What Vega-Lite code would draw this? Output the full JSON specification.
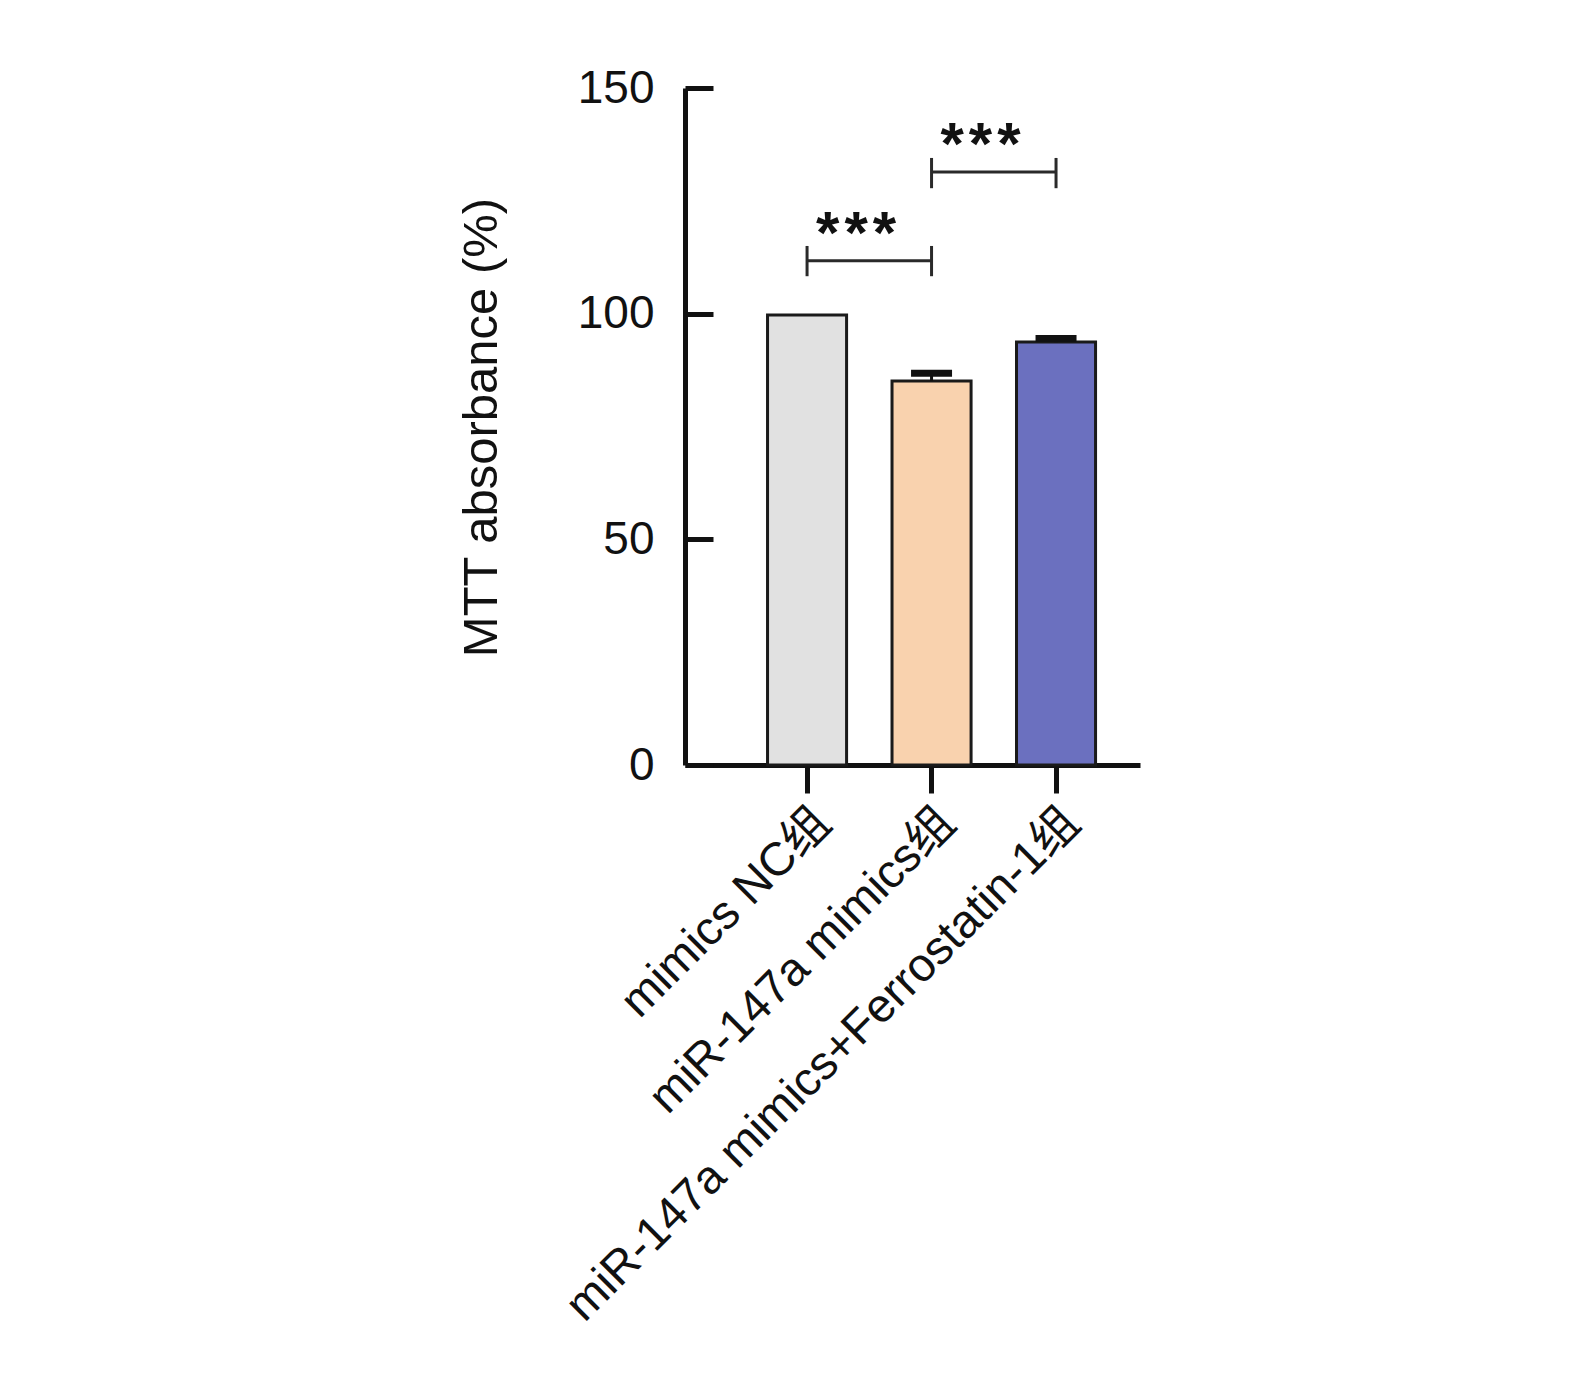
{
  "$schema": "https://vega.github.io/schema/vega-lite/v6.json",
  "autosize": "none",
  "width": 455,
  "height": 677,
  "padding": {"left": 685, "top": 88, "right": 435, "bottom": 622},
  "background": "white",
  "config": {"view": {"stroke": null}, "font": "Liberation Sans, Noto Sans CJK SC"},
  "datasets": {
    "bars": [
      {"group": "mimics NC组", "mean": 99.7, "upper": 99.7},
      {"group": "miR-147a mimics组", "mean": 85.1, "upper": 86.8},
      {"group": "miR-147a mimics+Ferrostatin-1组", "mean": 93.7, "upper": 94.5}
    ],
    "brackets": [
      {"from": "mimics NC组", "to": "miR-147a mimics组", "y": 111.7, "ylo": 108.3, "yhi": 115.0, "star": 113.4, "label": "*\u200a*\u200a*"},
      {"from": "miR-147a mimics组", "to": "miR-147a mimics+Ferrostatin-1组", "y": 131.4, "ylo": 127.8, "yhi": 134.5, "star": 133.2, "label": "*\u200a*\u200a*"}
    ]
  },
  "encoding": {
    "x": {
      "field": "group",
      "type": "nominal",
      "sort": null,
      "scale": {
        "domain": ["mimics NC组", "miR-147a mimics组", "miR-147a mimics+Ferrostatin-1组"],
        "paddingInner": 0.365,
        "paddingOuter": 0.51,
        "align": 0.65
      },
      "axis": {
        "title": null,
        "labelAngle": -45,
        "labelFontSize": 47,
        "labelColor": "#111111",
        "labelPadding": 6,
        "tickSize": 28,
        "tickWidth": 5,
        "tickColor": "#111111",
        "domainWidth": 5,
        "domainColor": "#111111",
        "labelLimit": 0,
        "labelOverlap": false
      }
    }
  },
  "layer": [
    {
      "data": {"name": "bars"},
      "mark": {"type": "bar", "stroke": "#1a1a1a", "strokeWidth": 3},
      "encoding": {
        "y": {
          "field": "mean",
          "type": "quantitative",
          "scale": {"domain": [0, 150], "nice": false},
          "axis": {
            "values": [0, 50, 100, 150],
            "title": "MTT absorbance (%)",
            "titleFontSize": 49,
            "titleFontWeight": "normal",
            "titleColor": "#111111",
            "titlePadding": 71,
            "titleY": 339,
            "labelFontSize": 46,
            "labelColor": "#111111",
            "labelPadding": 59,
            "tickSize": -28,
            "tickWidth": 5,
            "tickColor": "#111111",
            "domainWidth": 5,
            "domainColor": "#111111",
            "grid": false
          }
        },
        "color": {
          "field": "group",
          "type": "nominal",
          "scale": {
            "domain": ["mimics NC组", "miR-147a mimics组", "miR-147a mimics+Ferrostatin-1组"],
            "range": ["#e1e1e1", "#f9d2ae", "#6b70bf"]
          },
          "legend": null
        }
      }
    },
    {
      "data": {"name": "bars"},
      "mark": {"type": "rule", "color": "#111111", "strokeWidth": 3},
      "encoding": {
        "y": {"field": "mean", "type": "quantitative"},
        "y2": {"field": "upper"}
      }
    },
    {
      "data": {"name": "bars"},
      "transform": [{"filter": "datum.upper > datum.mean"}],
      "mark": {"type": "tick", "color": "#111111", "opacity": 1, "size": 41, "thickness": 7, "orient": "horizontal"},
      "encoding": {
        "y": {"field": "upper", "type": "quantitative"}
      }
    },
    {
      "data": {"name": "brackets"},
      "mark": {"type": "rule", "color": "#2a2a2a", "strokeWidth": 3},
      "encoding": {
        "x": {"field": "from", "type": "nominal"},
        "x2": {"field": "to"},
        "y": {"field": "y", "type": "quantitative"}
      }
    },
    {
      "data": {"name": "brackets"},
      "mark": {"type": "rule", "color": "#2a2a2a", "strokeWidth": 3},
      "encoding": {
        "x": {"field": "from", "type": "nominal"},
        "y": {"field": "ylo", "type": "quantitative"},
        "y2": {"field": "yhi"}
      }
    },
    {
      "data": {"name": "brackets"},
      "mark": {"type": "rule", "color": "#2a2a2a", "strokeWidth": 3},
      "encoding": {
        "x": {"field": "to", "type": "nominal"},
        "y": {"field": "ylo", "type": "quantitative"},
        "y2": {"field": "yhi"}
      }
    },
    {
      "data": {"name": "brackets"},
      "mark": {"type": "text", "fontSize": 60, "fontWeight": "bold", "color": "#111111", "baseline": "alphabetic", "dx": 49, "align": "center"},
      "encoding": {
        "x": {"field": "from", "type": "nominal"},
        "y": {"field": "star", "type": "quantitative"},
        "text": {"field": "label"}
      }
    }
  ]
}
